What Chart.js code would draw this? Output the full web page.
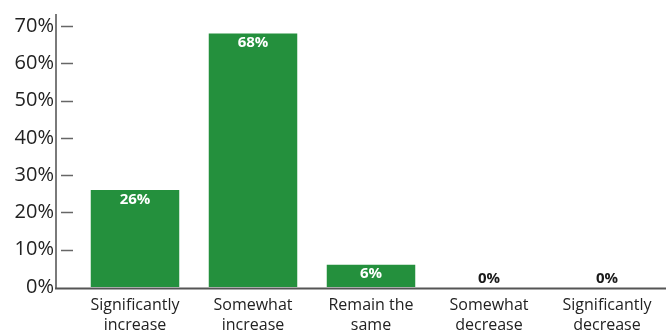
<!DOCTYPE html>
<html>
<head>
<meta charset="utf-8">
<script src="https://cdn.jsdelivr.net/npm/chart.js@4/dist/chart.umd.min.js"></script>
<style>
  html, body { margin: 0; padding: 0; background: #fff; }
  #wrap { width: 666px; height: 332px; }
</style>
</head>
<body>
<div id="wrap"><canvas id="c" width="666" height="332"></canvas></div>
<script>
// Expected change in each answer category (percent of respondents)
const categories = [
  ['Significantly', 'increase'],
  ['Somewhat', 'increase'],
  ['Remain the', 'same'],
  ['Somewhat', 'decrease'],
  ['Significantly', 'decrease']
];
const shares = [26, 68, 6, 0, 0];
const yTicks = [0, 10, 20, 30, 40, 50, 60, 70];

const GREEN = '#24903d';
const FONT = '"Open Sans", "Noto Sans", sans-serif';

// Axis lines and detached tick dashes, drawn beside the plot area
const axisPlugin = {
  id: 'axisLines',
  afterDraw(chart) {
    const { ctx, chartArea } = chart;
    const y = chart.scales.y;
    const axisX = chartArea.left - 20;
    ctx.save();
    ctx.strokeStyle = '#7a7a7a';
    ctx.lineWidth = 2;
    ctx.beginPath();
    ctx.moveTo(axisX, chartArea.top - 12);
    ctx.lineTo(axisX, chartArea.bottom + 2);
    ctx.stroke();
    ctx.strokeStyle = '#555';
    ctx.beginPath();
    ctx.moveTo(axisX - 1, chartArea.bottom + 1.5);
    ctx.lineTo(chart.width, chartArea.bottom + 1.5);
    ctx.stroke();
    ctx.strokeStyle = '#666';
    ctx.lineWidth = 1.5;
    yTicks.forEach(v => {
      if (v === 0) return;
      const py = Math.round(y.getPixelForValue(v)) + 0.5;
      ctx.beginPath();
      ctx.moveTo(axisX + 5, py);
      ctx.lineTo(axisX + 17, py);
      ctx.stroke();
    });
    ctx.restore();
  }
};

// Value labels: white inside the bar top, black above an empty bar
const valuePlugin = {
  id: 'valueLabels',
  afterDatasetsDraw(chart) {
    const { ctx } = chart;
    const meta = chart.getDatasetMeta(0);
    ctx.save();
    ctx.font = 'bold 15px ' + FONT;
    ctx.textAlign = 'center';
    meta.data.forEach((bar, i) => {
      const v = shares[i];
      const txt = v + '%';
      if (v > 0) {
        ctx.fillStyle = '#ffffff';
        ctx.textBaseline = 'top';
        ctx.fillText(txt, bar.x, bar.y + 2);
      } else {
        ctx.fillStyle = '#1a1a1a';
        ctx.textBaseline = 'bottom';
        ctx.fillText(txt, bar.x, bar.y - 1);
      }
    });
    ctx.restore();
  }
};

new Chart(document.getElementById('c'), {
  type: 'bar',
  data: {
    labels: categories,
    datasets: [{
      data: shares,
      backgroundColor: GREEN,
      borderWidth: 0,
      barPercentage: 0.75,
      categoryPercentage: 1.0
    }]
  },
  options: {
    responsive: false,
    animation: false,
    layout: { padding: { top: 12, right: 0, left: 0, bottom: 0 } },
    plugins: { legend: { display: false }, tooltip: { enabled: false } },
    scales: {
      x: {
        grid: { display: false },
        border: { display: false },
        ticks: {
          color: '#222',
          font: { family: FONT, size: 16, lineHeight: 1.25 },
          padding: 0,
          maxRotation: 0,
          autoSkip: false
        },
        afterFit(s) { s.height = 45; }
      },
      y: {
        min: 0,
        max: 70,
        grid: { display: false },
        border: { display: false },
        afterBuildTicks(s) { s.ticks = yTicks.map(v => ({ value: v })); },
        ticks: {
          color: '#222',
          font: { family: FONT, size: 20 },
          padding: 14,
          callback: v => v + '%'
        },
        afterFit(s) { s.width = 76; }
      }
    }
  },
  plugins: [axisPlugin, valuePlugin]
});
</script>
</body>
</html>
